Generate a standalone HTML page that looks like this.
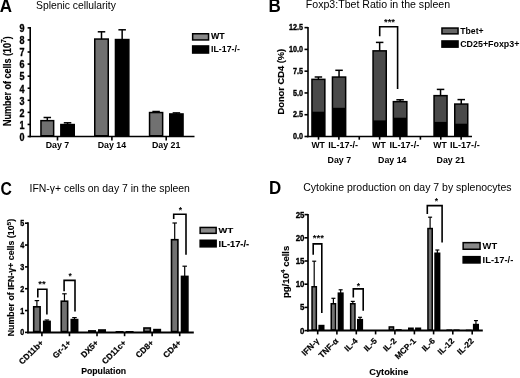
<!DOCTYPE html><html><head><meta charset="utf-8"><style>html,body{margin:0;padding:0;background:#fff;}svg{display:block;will-change:transform;}text{font-family:"Liberation Sans",sans-serif;fill:#000;}</style></head><body>
<svg width="520" height="378" viewBox="0 0 520 378">
<rect width="520" height="378" fill="#fff"/>
<text transform="translate(-0.15,12.30) scale(1.0,1.05)" font-size="17.0" font-weight="bold" text-anchor="start">A</text>
<text x="36.00" y="9.20" font-size="10.35" font-weight="normal" text-anchor="start" >Splenic cellularity</text>
<line x1="30.20" y1="27.00" x2="30.20" y2="137.30" stroke="#000" stroke-width="1.6"/>
<line x1="29.40" y1="136.50" x2="194.50" y2="136.50" stroke="#000" stroke-width="1.6"/>
<line x1="27.60" y1="136.50" x2="30.20" y2="136.50" stroke="#000" stroke-width="1.6"/>
<text transform="translate(24.50,140.80) scale(1.0,1.17)" font-size="9.0" font-weight="bold" text-anchor="end" stroke="#000" stroke-width="0.3">0</text>
<line x1="27.60" y1="124.43" x2="30.20" y2="124.43" stroke="#000" stroke-width="1.6"/>
<text transform="translate(24.50,128.73) scale(1.0,1.17)" font-size="9.0" font-weight="bold" text-anchor="end" stroke="#000" stroke-width="0.3">1</text>
<line x1="27.60" y1="112.36" x2="30.20" y2="112.36" stroke="#000" stroke-width="1.6"/>
<text transform="translate(24.50,116.66) scale(1.0,1.17)" font-size="9.0" font-weight="bold" text-anchor="end" stroke="#000" stroke-width="0.3">2</text>
<line x1="27.60" y1="100.29" x2="30.20" y2="100.29" stroke="#000" stroke-width="1.6"/>
<text transform="translate(24.50,104.59) scale(1.0,1.17)" font-size="9.0" font-weight="bold" text-anchor="end" stroke="#000" stroke-width="0.3">3</text>
<line x1="27.60" y1="88.22" x2="30.20" y2="88.22" stroke="#000" stroke-width="1.6"/>
<text transform="translate(24.50,92.52) scale(1.0,1.17)" font-size="9.0" font-weight="bold" text-anchor="end" stroke="#000" stroke-width="0.3">4</text>
<line x1="27.60" y1="76.15" x2="30.20" y2="76.15" stroke="#000" stroke-width="1.6"/>
<text transform="translate(24.50,80.45) scale(1.0,1.17)" font-size="9.0" font-weight="bold" text-anchor="end" stroke="#000" stroke-width="0.3">5</text>
<line x1="27.60" y1="64.08" x2="30.20" y2="64.08" stroke="#000" stroke-width="1.6"/>
<text transform="translate(24.50,68.38) scale(1.0,1.17)" font-size="9.0" font-weight="bold" text-anchor="end" stroke="#000" stroke-width="0.3">6</text>
<line x1="27.60" y1="52.01" x2="30.20" y2="52.01" stroke="#000" stroke-width="1.6"/>
<text transform="translate(24.50,56.31) scale(1.0,1.17)" font-size="9.0" font-weight="bold" text-anchor="end" stroke="#000" stroke-width="0.3">7</text>
<line x1="27.60" y1="39.94" x2="30.20" y2="39.94" stroke="#000" stroke-width="1.6"/>
<text transform="translate(24.50,44.24) scale(1.0,1.17)" font-size="9.0" font-weight="bold" text-anchor="end" stroke="#000" stroke-width="0.3">8</text>
<line x1="27.60" y1="27.87" x2="30.20" y2="27.87" stroke="#000" stroke-width="1.6"/>
<text transform="translate(24.50,32.17) scale(1.0,1.17)" font-size="9.0" font-weight="bold" text-anchor="end" stroke="#000" stroke-width="0.3">9</text>
<line x1="57.50" y1="136.50" x2="57.50" y2="140.50" stroke="#000" stroke-width="1.6"/>
<line x1="111.90" y1="136.50" x2="111.90" y2="140.50" stroke="#000" stroke-width="1.6"/>
<line x1="166.20" y1="136.50" x2="166.20" y2="140.50" stroke="#000" stroke-width="1.6"/>
<text x="57.50" y="148.40" font-size="8.8" font-weight="bold" text-anchor="middle" >Day 7</text>
<text x="111.90" y="148.40" font-size="8.8" font-weight="bold" text-anchor="middle" >Day 14</text>
<text x="166.20" y="148.40" font-size="8.8" font-weight="bold" text-anchor="middle" >Day 21</text>
<text transform="translate(10.80,81.10) rotate(-90) scale(1.0,1.12)" font-size="9.0" font-weight="bold" text-anchor="middle" stroke="#000" stroke-width="0.15">Number of cells (10<tspan dy="-4.2" font-size="6.6">7</tspan><tspan dy="4.2">)</tspan></text>
<line x1="47.30" y1="117.50" x2="47.30" y2="120.90" stroke="#000" stroke-width="1.5"/>
<line x1="43.55" y1="117.50" x2="51.05" y2="117.50" stroke="#000" stroke-width="1.5"/>
<rect x="40.95" y="120.65" width="12.70" height="15.10" fill="#717171" stroke="#000" stroke-width="1.5"/>
<line x1="67.55" y1="122.80" x2="67.55" y2="124.80" stroke="#000" stroke-width="1.5"/>
<line x1="63.80" y1="122.80" x2="71.30" y2="122.80" stroke="#000" stroke-width="1.5"/>
<rect x="60.85" y="124.55" width="13.40" height="11.20" fill="#000" stroke="#000" stroke-width="1.5"/>
<line x1="101.50" y1="31.80" x2="101.50" y2="39.30" stroke="#000" stroke-width="1.5"/>
<line x1="97.75" y1="31.80" x2="105.25" y2="31.80" stroke="#000" stroke-width="1.5"/>
<rect x="94.75" y="39.05" width="13.50" height="96.70" fill="#717171" stroke="#000" stroke-width="1.5"/>
<line x1="122.15" y1="29.80" x2="122.15" y2="39.80" stroke="#000" stroke-width="1.5"/>
<line x1="118.40" y1="29.80" x2="125.90" y2="29.80" stroke="#000" stroke-width="1.5"/>
<rect x="115.45" y="39.55" width="13.40" height="96.20" fill="#000" stroke="#000" stroke-width="1.5"/>
<line x1="156.10" y1="111.50" x2="156.10" y2="112.80" stroke="#000" stroke-width="1.5"/>
<line x1="152.35" y1="111.50" x2="159.85" y2="111.50" stroke="#000" stroke-width="1.5"/>
<rect x="149.55" y="112.55" width="13.10" height="23.20" fill="#717171" stroke="#000" stroke-width="1.5"/>
<line x1="176.40" y1="112.90" x2="176.40" y2="114.20" stroke="#000" stroke-width="1.5"/>
<line x1="172.65" y1="112.90" x2="180.15" y2="112.90" stroke="#000" stroke-width="1.5"/>
<rect x="169.75" y="113.95" width="13.30" height="21.80" fill="#000" stroke="#000" stroke-width="1.5"/>
<rect x="192.65" y="33.75" width="15.90" height="6.20" fill="#898989" stroke="#000" stroke-width="1.5"/>
<text transform="translate(211.00,38.80) scale(1.0,0.95)" font-size="8.8" font-weight="bold" text-anchor="start" stroke="#000" stroke-width="0.12">WT</text>
<rect x="192.65" y="45.95" width="15.90" height="7.10" fill="#000" stroke="#000" stroke-width="1.5"/>
<text transform="translate(211.00,52.00) scale(1.0,0.95)" font-size="8.8" font-weight="bold" text-anchor="start">IL-17-/-</text>
<text transform="translate(268.40,12.40) scale(1.0,1.05)" font-size="17.0" font-weight="bold" text-anchor="start">B</text>
<text x="305.80" y="8.10" font-size="10.6" font-weight="normal" text-anchor="start" >Foxp3:Tbet Ratio in the spleen</text>
<line x1="308.00" y1="27.00" x2="308.00" y2="137.30" stroke="#000" stroke-width="1.6"/>
<line x1="307.20" y1="136.50" x2="472.00" y2="136.50" stroke="#000" stroke-width="1.6"/>
<line x1="304.50" y1="136.50" x2="308.00" y2="136.50" stroke="#000" stroke-width="1.6"/>
<text transform="translate(303.00,139.10) scale(1.0,1.22)" font-size="7.2" font-weight="bold" text-anchor="end" stroke="#000" stroke-width="0.3">0.0</text>
<line x1="304.50" y1="114.72" x2="308.00" y2="114.72" stroke="#000" stroke-width="1.6"/>
<text transform="translate(303.00,117.32) scale(1.0,1.22)" font-size="7.2" font-weight="bold" text-anchor="end" stroke="#000" stroke-width="0.3">2.5</text>
<line x1="304.50" y1="92.95" x2="308.00" y2="92.95" stroke="#000" stroke-width="1.6"/>
<text transform="translate(303.00,95.55) scale(1.0,1.22)" font-size="7.2" font-weight="bold" text-anchor="end" stroke="#000" stroke-width="0.3">5.0</text>
<line x1="304.50" y1="71.17" x2="308.00" y2="71.17" stroke="#000" stroke-width="1.6"/>
<text transform="translate(303.00,73.77) scale(1.0,1.22)" font-size="7.2" font-weight="bold" text-anchor="end" stroke="#000" stroke-width="0.3">7.5</text>
<line x1="304.50" y1="49.40" x2="308.00" y2="49.40" stroke="#000" stroke-width="1.6"/>
<text transform="translate(303.00,52.00) scale(1.0,1.22)" font-size="7.2" font-weight="bold" text-anchor="end" stroke="#000" stroke-width="0.3">10.0</text>
<line x1="304.50" y1="27.62" x2="308.00" y2="27.62" stroke="#000" stroke-width="1.6"/>
<text transform="translate(303.00,30.22) scale(1.0,1.22)" font-size="7.2" font-weight="bold" text-anchor="end" stroke="#000" stroke-width="0.3">12.5</text>
<line x1="318.50" y1="136.50" x2="318.50" y2="139.70" stroke="#000" stroke-width="1.6"/>
<line x1="338.88" y1="136.50" x2="338.88" y2="139.70" stroke="#000" stroke-width="1.6"/>
<line x1="359.26" y1="136.50" x2="359.26" y2="139.70" stroke="#000" stroke-width="1.6"/>
<line x1="379.64" y1="136.50" x2="379.64" y2="139.70" stroke="#000" stroke-width="1.6"/>
<line x1="400.02" y1="136.50" x2="400.02" y2="139.70" stroke="#000" stroke-width="1.6"/>
<line x1="420.40" y1="136.50" x2="420.40" y2="139.70" stroke="#000" stroke-width="1.6"/>
<line x1="440.78" y1="136.50" x2="440.78" y2="139.70" stroke="#000" stroke-width="1.6"/>
<line x1="461.16" y1="136.50" x2="461.16" y2="139.70" stroke="#000" stroke-width="1.6"/>
<text x="311.40" y="147.80" font-size="8.7" font-weight="bold" text-anchor="start" >WT</text>
<text x="328.30" y="147.80" font-size="9.1" font-weight="bold" text-anchor="start" >IL-17-/-</text>
<text x="372.30" y="147.80" font-size="8.7" font-weight="bold" text-anchor="start" >WT</text>
<text x="389.40" y="147.80" font-size="9.1" font-weight="bold" text-anchor="start" >IL-17-/-</text>
<text x="433.30" y="147.80" font-size="8.7" font-weight="bold" text-anchor="start" >WT</text>
<text x="449.90" y="147.80" font-size="9.1" font-weight="bold" text-anchor="start" >IL-17-/-</text>
<text x="339.30" y="162.70" font-size="8.8" font-weight="bold" text-anchor="middle" >Day 7</text>
<text x="392.30" y="162.70" font-size="8.8" font-weight="bold" text-anchor="middle" >Day 14</text>
<text x="450.80" y="162.70" font-size="8.8" font-weight="bold" text-anchor="middle" >Day 21</text>
<text transform="translate(284.00,81.70) rotate(-90) scale(1.0,1.0)" font-size="9.3" font-weight="bold" text-anchor="middle" stroke="#000" stroke-width="0.15">Donor CD4 (%)</text>
<line x1="318.40" y1="77.00" x2="318.40" y2="79.30" stroke="#000" stroke-width="1.5"/>
<line x1="314.65" y1="77.00" x2="322.15" y2="77.00" stroke="#000" stroke-width="1.5"/>
<rect x="311.20" y="78.60" width="14.40" height="57.90" fill="#000"/>
<rect x="312.70" y="80.10" width="11.40" height="31.60" fill="#4a4a4a"/>
<line x1="339.05" y1="70.30" x2="339.05" y2="77.00" stroke="#000" stroke-width="1.5"/>
<line x1="335.30" y1="70.30" x2="342.80" y2="70.30" stroke="#000" stroke-width="1.5"/>
<rect x="331.70" y="76.30" width="14.70" height="60.20" fill="#000"/>
<rect x="333.20" y="77.80" width="11.70" height="30.00" fill="#4a4a4a"/>
<line x1="379.65" y1="42.40" x2="379.65" y2="50.80" stroke="#000" stroke-width="1.5"/>
<line x1="375.90" y1="42.40" x2="383.40" y2="42.40" stroke="#000" stroke-width="1.5"/>
<rect x="372.30" y="50.10" width="14.70" height="86.40" fill="#000"/>
<rect x="373.80" y="51.60" width="11.70" height="68.80" fill="#4a4a4a"/>
<line x1="400.10" y1="99.80" x2="400.10" y2="101.60" stroke="#000" stroke-width="1.5"/>
<line x1="396.35" y1="99.80" x2="403.85" y2="99.80" stroke="#000" stroke-width="1.5"/>
<rect x="392.60" y="100.90" width="15.00" height="35.60" fill="#000"/>
<rect x="394.10" y="102.40" width="12.00" height="15.30" fill="#4a4a4a"/>
<line x1="440.55" y1="89.40" x2="440.55" y2="95.60" stroke="#000" stroke-width="1.5"/>
<line x1="436.80" y1="89.40" x2="444.30" y2="89.40" stroke="#000" stroke-width="1.5"/>
<rect x="433.30" y="94.90" width="14.50" height="41.60" fill="#000"/>
<rect x="434.80" y="96.40" width="11.50" height="25.50" fill="#4a4a4a"/>
<line x1="461.25" y1="99.60" x2="461.25" y2="104.00" stroke="#000" stroke-width="1.5"/>
<line x1="457.50" y1="99.60" x2="465.00" y2="99.60" stroke="#000" stroke-width="1.5"/>
<rect x="454.00" y="103.30" width="14.50" height="33.20" fill="#000"/>
<rect x="455.50" y="104.80" width="11.50" height="18.90" fill="#4a4a4a"/>
<polyline points="379.70,36.20 379.70,26.70 397.60,26.70 397.60,89.00" fill="none" stroke="#000" stroke-width="1.6"/>
<text x="389.50" y="25.30" font-size="9.5" font-weight="bold" text-anchor="middle" >***</text>
<rect x="441.95" y="28.05" width="16.10" height="5.80" fill="#666" stroke="#000" stroke-width="1.5"/>
<text x="460.20" y="33.90" font-size="8.7" font-weight="bold" text-anchor="start" >Tbet+</text>
<rect x="441.95" y="40.95" width="16.10" height="6.20" fill="#000" stroke="#000" stroke-width="1.5"/>
<text x="460.20" y="47.00" font-size="8.9" font-weight="bold" text-anchor="start" >CD25+Foxp3+</text>
<text transform="translate(0.40,194.60) scale(0.95,1.05)" font-size="16.6" font-weight="bold" text-anchor="start">C</text>
<text x="29.50" y="191.90" font-size="10.45" font-weight="normal" text-anchor="start" >IFN-γ+ cells on day 7 in the spleen</text>
<line x1="28.00" y1="222.30" x2="28.00" y2="333.30" stroke="#000" stroke-width="1.7"/>
<line x1="27.20" y1="332.40" x2="193.80" y2="332.40" stroke="#000" stroke-width="2.0"/>
<line x1="25.00" y1="332.40" x2="28.00" y2="332.40" stroke="#000" stroke-width="1.6"/>
<text transform="translate(24.30,335.40) scale(1.0,1.25)" font-size="7.2" font-weight="bold" text-anchor="end" stroke="#000" stroke-width="0.3">0</text>
<line x1="25.00" y1="310.56" x2="28.00" y2="310.56" stroke="#000" stroke-width="1.6"/>
<text transform="translate(24.30,313.56) scale(1.0,1.25)" font-size="7.2" font-weight="bold" text-anchor="end" stroke="#000" stroke-width="0.3">1</text>
<line x1="25.00" y1="288.72" x2="28.00" y2="288.72" stroke="#000" stroke-width="1.6"/>
<text transform="translate(24.30,291.72) scale(1.0,1.25)" font-size="7.2" font-weight="bold" text-anchor="end" stroke="#000" stroke-width="0.3">2</text>
<line x1="25.00" y1="266.88" x2="28.00" y2="266.88" stroke="#000" stroke-width="1.6"/>
<text transform="translate(24.30,269.88) scale(1.0,1.25)" font-size="7.2" font-weight="bold" text-anchor="end" stroke="#000" stroke-width="0.3">3</text>
<line x1="25.00" y1="245.04" x2="28.00" y2="245.04" stroke="#000" stroke-width="1.6"/>
<text transform="translate(24.30,248.04) scale(1.0,1.25)" font-size="7.2" font-weight="bold" text-anchor="end" stroke="#000" stroke-width="0.3">4</text>
<line x1="25.00" y1="223.20" x2="28.00" y2="223.20" stroke="#000" stroke-width="1.6"/>
<text transform="translate(24.30,226.20) scale(1.0,1.25)" font-size="7.2" font-weight="bold" text-anchor="end" stroke="#000" stroke-width="0.3">5</text>
<line x1="41.90" y1="332.40" x2="41.90" y2="336.20" stroke="#000" stroke-width="1.6"/>
<line x1="69.46" y1="332.40" x2="69.46" y2="336.20" stroke="#000" stroke-width="1.6"/>
<line x1="97.02" y1="332.40" x2="97.02" y2="336.20" stroke="#000" stroke-width="1.6"/>
<line x1="124.58" y1="332.40" x2="124.58" y2="336.20" stroke="#000" stroke-width="1.6"/>
<line x1="152.14" y1="332.40" x2="152.14" y2="336.20" stroke="#000" stroke-width="1.6"/>
<line x1="179.70" y1="332.40" x2="179.70" y2="336.20" stroke="#000" stroke-width="1.6"/>
<text transform="translate(43.90,343.40) rotate(-45) scale(1.0,1.0)" font-size="8.3" font-weight="bold" text-anchor="end" stroke="#000" stroke-width="0.2">CD11b+</text>
<text transform="translate(71.46,343.40) rotate(-45) scale(1.0,1.0)" font-size="8.3" font-weight="bold" text-anchor="end" stroke="#000" stroke-width="0.2">Gr-1+</text>
<text transform="translate(99.02,343.40) rotate(-45) scale(1.0,1.0)" font-size="8.3" font-weight="bold" text-anchor="end" stroke="#000" stroke-width="0.2">DX5+</text>
<text transform="translate(126.58,343.40) rotate(-45) scale(1.0,1.0)" font-size="8.3" font-weight="bold" text-anchor="end" stroke="#000" stroke-width="0.2">CD11c+</text>
<text transform="translate(154.14,343.40) rotate(-45) scale(1.0,1.0)" font-size="8.3" font-weight="bold" text-anchor="end" stroke="#000" stroke-width="0.2">CD8+</text>
<text transform="translate(181.70,343.40) rotate(-45) scale(1.0,1.0)" font-size="8.3" font-weight="bold" text-anchor="end" stroke="#000" stroke-width="0.2">CD4+</text>
<text transform="translate(103.60,374.20) scale(1.0,1.0)" font-size="8.7" font-weight="bold" text-anchor="middle" stroke="#000" stroke-width="0.12">Population</text>
<text transform="translate(14.4,277.5) rotate(-90)" x="0" y="0" font-size="8.2" font-weight="bold" text-anchor="middle" stroke="#000" stroke-width="0.12" textLength="117.5" lengthAdjust="spacingAndGlyphs">Number of IFN-γ+ cells (10<tspan dy="-3.3" font-size="6.2">5</tspan><tspan dy="3.3">)</tspan></text>
<line x1="36.90" y1="300.60" x2="36.90" y2="307.00" stroke="#000" stroke-width="1.2"/>
<line x1="34.65" y1="300.60" x2="39.15" y2="300.60" stroke="#000" stroke-width="1.2"/>
<rect x="33.70" y="306.80" width="6.40" height="24.80" fill="#717171" stroke="#000" stroke-width="1.6"/>
<line x1="46.90" y1="320.00" x2="46.90" y2="321.60" stroke="#000" stroke-width="1.2"/>
<line x1="44.65" y1="320.00" x2="49.15" y2="320.00" stroke="#000" stroke-width="1.2"/>
<rect x="43.70" y="321.40" width="6.40" height="10.20" fill="#000" stroke="#000" stroke-width="1.6"/>
<line x1="64.46" y1="293.80" x2="64.46" y2="301.40" stroke="#000" stroke-width="1.2"/>
<line x1="62.21" y1="293.80" x2="66.71" y2="293.80" stroke="#000" stroke-width="1.2"/>
<rect x="61.26" y="301.20" width="6.40" height="30.40" fill="#717171" stroke="#000" stroke-width="1.6"/>
<line x1="74.46" y1="317.60" x2="74.46" y2="319.80" stroke="#000" stroke-width="1.2"/>
<line x1="72.21" y1="317.60" x2="76.71" y2="317.60" stroke="#000" stroke-width="1.2"/>
<rect x="71.26" y="319.60" width="6.40" height="12.00" fill="#000" stroke="#000" stroke-width="1.6"/>
<rect x="88.82" y="330.90" width="6.40" height="0.70" fill="#717171" stroke="#000" stroke-width="1.6"/>
<rect x="98.82" y="330.00" width="6.40" height="1.60" fill="#000" stroke="#000" stroke-width="1.6"/>
<rect x="116.38" y="331.80" width="6.40" height="0.01" fill="#717171" stroke="#000" stroke-width="1.6"/>
<rect x="126.38" y="331.80" width="6.40" height="0.01" fill="#000" stroke="#000" stroke-width="1.6"/>
<rect x="143.94" y="328.00" width="6.40" height="3.60" fill="#717171" stroke="#000" stroke-width="1.6"/>
<rect x="153.94" y="329.60" width="6.40" height="2.00" fill="#000" stroke="#000" stroke-width="1.6"/>
<line x1="174.70" y1="223.00" x2="174.70" y2="239.90" stroke="#000" stroke-width="1.2"/>
<line x1="172.45" y1="223.00" x2="176.95" y2="223.00" stroke="#000" stroke-width="1.2"/>
<rect x="171.50" y="239.70" width="6.40" height="91.90" fill="#717171" stroke="#000" stroke-width="1.6"/>
<line x1="184.70" y1="266.20" x2="184.70" y2="276.60" stroke="#000" stroke-width="1.2"/>
<line x1="182.45" y1="266.20" x2="186.95" y2="266.20" stroke="#000" stroke-width="1.2"/>
<rect x="181.50" y="276.40" width="6.40" height="55.20" fill="#000" stroke="#000" stroke-width="1.6"/>
<polyline points="37.80,297.50 37.80,289.30 46.90,289.30 46.90,314.40" fill="none" stroke="#000" stroke-width="1.6"/>
<text x="42.05" y="287.30" font-size="9.5" font-weight="bold" text-anchor="middle" >**</text>
<polyline points="64.10,291.20 64.10,280.40 75.00,280.40 75.00,311.50" fill="none" stroke="#000" stroke-width="1.6"/>
<text x="70.20" y="279.00" font-size="8.5" font-weight="bold" text-anchor="middle" >*</text>
<polyline points="173.70,219.00 173.70,214.30 186.00,214.30 186.00,254.80" fill="none" stroke="#000" stroke-width="1.6"/>
<text x="180.50" y="212.50" font-size="8.5" font-weight="bold" text-anchor="middle" >*</text>
<rect x="200.15" y="227.45" width="16.00" height="5.90" fill="#898989" stroke="#000" stroke-width="1.5"/>
<text transform="translate(218.60,233.30) scale(1.06,0.92)" font-size="8.8" font-weight="bold" text-anchor="start" stroke="#000" stroke-width="0.15">WT</text>
<rect x="200.15" y="240.25" width="16.00" height="6.60" fill="#000" stroke="#000" stroke-width="1.5"/>
<text transform="translate(218.60,246.60) scale(1.06,0.95)" font-size="8.8" font-weight="bold" text-anchor="start" stroke="#000" stroke-width="0.12">IL-17-/-</text>
<text transform="translate(268.90,194.40) scale(1.0,1.07)" font-size="16.9" font-weight="bold" text-anchor="start">D</text>
<text x="303.20" y="190.90" font-size="10.5" font-weight="normal" text-anchor="start" >Cytokine production on day 7 by splenocytes</text>
<line x1="308.00" y1="214.00" x2="308.00" y2="331.50" stroke="#000" stroke-width="1.7"/>
<line x1="307.20" y1="330.60" x2="482.80" y2="330.60" stroke="#000" stroke-width="2.0"/>
<line x1="304.50" y1="330.60" x2="308.00" y2="330.60" stroke="#000" stroke-width="1.6"/>
<text transform="translate(304.40,333.60) scale(1.0,1.18)" font-size="7.9" font-weight="bold" text-anchor="end" stroke="#000" stroke-width="0.3">0</text>
<line x1="304.50" y1="307.40" x2="308.00" y2="307.40" stroke="#000" stroke-width="1.6"/>
<text transform="translate(304.40,310.40) scale(1.0,1.18)" font-size="7.9" font-weight="bold" text-anchor="end" stroke="#000" stroke-width="0.3">5</text>
<line x1="304.50" y1="284.20" x2="308.00" y2="284.20" stroke="#000" stroke-width="1.6"/>
<text transform="translate(304.40,287.20) scale(1.0,1.18)" font-size="7.9" font-weight="bold" text-anchor="end" stroke="#000" stroke-width="0.3">10</text>
<line x1="304.50" y1="261.00" x2="308.00" y2="261.00" stroke="#000" stroke-width="1.6"/>
<text transform="translate(304.40,264.00) scale(1.0,1.18)" font-size="7.9" font-weight="bold" text-anchor="end" stroke="#000" stroke-width="0.3">15</text>
<line x1="304.50" y1="237.80" x2="308.00" y2="237.80" stroke="#000" stroke-width="1.6"/>
<text transform="translate(304.40,240.80) scale(1.0,1.18)" font-size="7.9" font-weight="bold" text-anchor="end" stroke="#000" stroke-width="0.3">20</text>
<line x1="304.50" y1="214.60" x2="308.00" y2="214.60" stroke="#000" stroke-width="1.6"/>
<text transform="translate(304.40,217.60) scale(1.0,1.18)" font-size="7.9" font-weight="bold" text-anchor="end" stroke="#000" stroke-width="0.3">25</text>
<line x1="317.70" y1="330.60" x2="317.70" y2="334.40" stroke="#000" stroke-width="1.6"/>
<line x1="336.90" y1="330.60" x2="336.90" y2="334.40" stroke="#000" stroke-width="1.6"/>
<line x1="356.30" y1="330.60" x2="356.30" y2="334.40" stroke="#000" stroke-width="1.6"/>
<line x1="375.60" y1="330.60" x2="375.60" y2="334.40" stroke="#000" stroke-width="1.6"/>
<line x1="394.90" y1="330.60" x2="394.90" y2="334.40" stroke="#000" stroke-width="1.6"/>
<line x1="414.40" y1="330.60" x2="414.40" y2="334.40" stroke="#000" stroke-width="1.6"/>
<line x1="433.60" y1="330.60" x2="433.60" y2="334.40" stroke="#000" stroke-width="1.6"/>
<line x1="452.80" y1="330.60" x2="452.80" y2="334.40" stroke="#000" stroke-width="1.6"/>
<line x1="472.20" y1="330.60" x2="472.20" y2="334.40" stroke="#000" stroke-width="1.6"/>
<text transform="translate(319.70,341.60) rotate(-45) scale(1.0,1.0)" font-size="8.3" font-weight="bold" text-anchor="end" stroke="#000" stroke-width="0.2">IFN-γ</text>
<text transform="translate(338.90,341.60) rotate(-45) scale(1.0,1.0)" font-size="8.3" font-weight="bold" text-anchor="end" stroke="#000" stroke-width="0.2">TNF-α</text>
<text transform="translate(358.30,341.60) rotate(-45) scale(1.0,1.0)" font-size="8.3" font-weight="bold" text-anchor="end" stroke="#000" stroke-width="0.2">IL-4</text>
<text transform="translate(377.60,341.60) rotate(-45) scale(1.0,1.0)" font-size="8.3" font-weight="bold" text-anchor="end" stroke="#000" stroke-width="0.2">IL-5</text>
<text transform="translate(396.90,341.60) rotate(-45) scale(1.0,1.0)" font-size="8.3" font-weight="bold" text-anchor="end" stroke="#000" stroke-width="0.2">IL-2</text>
<text transform="translate(416.40,341.60) rotate(-45) scale(1.0,1.0)" font-size="8.3" font-weight="bold" text-anchor="end" stroke="#000" stroke-width="0.2">MCP-1</text>
<text transform="translate(435.60,341.60) rotate(-45) scale(1.0,1.0)" font-size="8.3" font-weight="bold" text-anchor="end" stroke="#000" stroke-width="0.2">IL-6</text>
<text transform="translate(454.80,341.60) rotate(-45) scale(1.0,1.0)" font-size="8.3" font-weight="bold" text-anchor="end" stroke="#000" stroke-width="0.2">IL-12</text>
<text transform="translate(474.20,341.60) rotate(-45) scale(1.0,1.0)" font-size="8.3" font-weight="bold" text-anchor="end" stroke="#000" stroke-width="0.2">IL-22</text>
<text transform="translate(388.80,375.00) scale(1.0,1.0)" font-size="9.25" font-weight="bold" text-anchor="middle" stroke="#000" stroke-width="0.12">Cytokine</text>
<text transform="translate(289.00,271.90) rotate(-90) scale(1.12,1.0)" font-size="8.5" font-weight="bold" text-anchor="middle" stroke="#000" stroke-width="0.15">pg/10<tspan dy="-4" font-size="6">4</tspan><tspan dy="4"> cells</tspan></text>
<line x1="314.20" y1="261.20" x2="314.20" y2="287.00" stroke="#000" stroke-width="1.2"/>
<line x1="312.20" y1="261.20" x2="316.20" y2="261.20" stroke="#000" stroke-width="1.2"/>
<rect x="312.05" y="286.75" width="4.30" height="43.10" fill="#717171" stroke="#000" stroke-width="1.5"/>
<rect x="319.15" y="325.55" width="4.60" height="4.30" fill="#000" stroke="#000" stroke-width="1.5"/>
<line x1="333.40" y1="298.30" x2="333.40" y2="304.00" stroke="#000" stroke-width="1.2"/>
<line x1="331.40" y1="298.30" x2="335.40" y2="298.30" stroke="#000" stroke-width="1.2"/>
<rect x="331.25" y="303.75" width="4.30" height="26.10" fill="#717171" stroke="#000" stroke-width="1.5"/>
<line x1="340.65" y1="289.80" x2="340.65" y2="293.40" stroke="#000" stroke-width="1.2"/>
<line x1="338.65" y1="289.80" x2="342.65" y2="289.80" stroke="#000" stroke-width="1.2"/>
<rect x="338.35" y="293.15" width="4.60" height="36.70" fill="#000" stroke="#000" stroke-width="1.5"/>
<line x1="352.80" y1="301.40" x2="352.80" y2="304.00" stroke="#000" stroke-width="1.2"/>
<line x1="350.80" y1="301.40" x2="354.80" y2="301.40" stroke="#000" stroke-width="1.2"/>
<rect x="350.65" y="303.75" width="4.30" height="26.10" fill="#717171" stroke="#000" stroke-width="1.5"/>
<line x1="360.05" y1="317.30" x2="360.05" y2="319.90" stroke="#000" stroke-width="1.2"/>
<line x1="358.05" y1="317.30" x2="362.05" y2="317.30" stroke="#000" stroke-width="1.2"/>
<rect x="357.75" y="319.65" width="4.60" height="10.20" fill="#000" stroke="#000" stroke-width="1.5"/>
<rect x="389.25" y="326.95" width="4.30" height="2.90" fill="#717171" stroke="#000" stroke-width="1.5"/>
<rect x="396.35" y="329.85" width="4.60" height="0.01" fill="#000" stroke="#000" stroke-width="1.5"/>
<rect x="408.75" y="328.25" width="4.30" height="1.60" fill="#717171" stroke="#000" stroke-width="1.5"/>
<rect x="415.85" y="328.25" width="4.60" height="1.60" fill="#000" stroke="#000" stroke-width="1.5"/>
<line x1="430.10" y1="217.20" x2="430.10" y2="228.80" stroke="#000" stroke-width="1.2"/>
<line x1="428.10" y1="217.20" x2="432.10" y2="217.20" stroke="#000" stroke-width="1.2"/>
<rect x="427.95" y="228.55" width="4.30" height="101.30" fill="#717171" stroke="#000" stroke-width="1.5"/>
<line x1="437.35" y1="250.00" x2="437.35" y2="253.50" stroke="#000" stroke-width="1.2"/>
<line x1="435.35" y1="250.00" x2="439.35" y2="250.00" stroke="#000" stroke-width="1.2"/>
<rect x="435.05" y="253.25" width="4.60" height="76.60" fill="#000" stroke="#000" stroke-width="1.5"/>
<rect x="447.15" y="330.15" width="4.30" height="0.01" fill="#717171" stroke="#000" stroke-width="1.5"/>
<rect x="454.25" y="330.15" width="4.60" height="0.01" fill="#000" stroke="#000" stroke-width="1.5"/>
<rect x="466.55" y="330.35" width="4.30" height="0.01" fill="#717171" stroke="#000" stroke-width="1.5"/>
<line x1="475.95" y1="320.60" x2="475.95" y2="324.80" stroke="#000" stroke-width="1.2"/>
<line x1="473.95" y1="320.60" x2="477.95" y2="320.60" stroke="#000" stroke-width="1.2"/>
<rect x="473.65" y="324.55" width="4.60" height="5.30" fill="#000" stroke="#000" stroke-width="1.5"/>
<polyline points="313.20,254.80 313.20,243.90 321.80,243.90 321.80,312.90" fill="none" stroke="#000" stroke-width="1.6"/>
<text x="318.30" y="241.30" font-size="9.5" font-weight="bold" text-anchor="middle" >***</text>
<polyline points="353.30,297.50 353.30,288.90 363.20,288.90 363.20,310.80" fill="none" stroke="#000" stroke-width="1.6"/>
<text x="358.30" y="288.80" font-size="8.5" font-weight="bold" text-anchor="middle" >*</text>
<polyline points="427.30,214.00 427.30,205.60 442.10,205.60 442.10,242.60" fill="none" stroke="#000" stroke-width="1.6"/>
<text x="436.40" y="203.80" font-size="8.5" font-weight="bold" text-anchor="middle" >*</text>
<rect x="463.15" y="242.65" width="16.90" height="6.60" fill="#898989" stroke="#000" stroke-width="1.5"/>
<text x="482.60" y="249.00" font-size="9.4" font-weight="bold" text-anchor="start" >WT</text>
<rect x="463.15" y="256.65" width="16.90" height="6.30" fill="#000" stroke="#000" stroke-width="1.5"/>
<text x="482.60" y="263.00" font-size="9.4" font-weight="bold" text-anchor="start" >IL-17-/-</text>
</svg></body></html>
